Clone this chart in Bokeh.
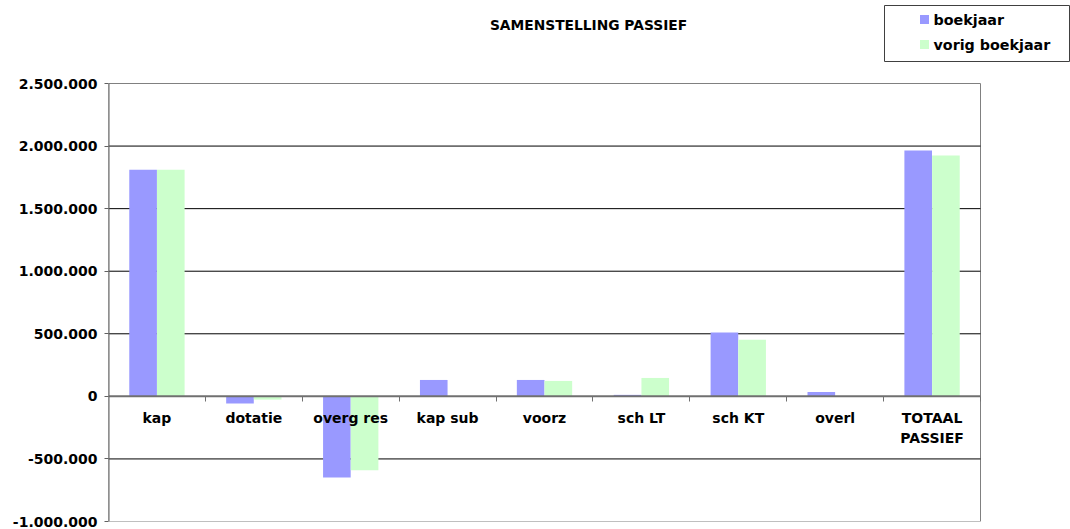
from bokeh.plotting import figure
from bokeh.models import Range1d, FixedTicker, LinearAxis, ColumnDataSource
from bokeh.core.properties import value
from bokeh.embed import file_html
from bokeh.resources import INLINE

categories = ["kap", "dotatie", "overg res", "kap sub", "voorz", "sch LT", "sch KT", "overl", "TOTAAL PASSIEF"]
boekjaar = [1810000, -58000, -648000, 131000, 131000, 12000, 510000, 35000, 1964000]
vorig_boekjaar = [1810000, -26000, -591000, 0, 123000, 147000, 453000, 0, 1924000]
y_ticks = [-1000000, -500000, 0, 500000, 1000000, 1500000, 2000000, 2500000]
y_tick_labels = ["-1.000.000", "-500.000", "0", "500.000", "1.000.000", "1.500.000", "2.000.000", "2.500.000"]
title_text = "SAMENSTELLING PASSIEF"
series_names = ["boekjaar", "vorig boekjaar"]

BLUE = "#9999FF"
GREEN = "#CCFFCC"
FONT = "DejaVu Sans"

W, H = 1070, 529
AREA_L, AREA_R, AREA_T, AREA_B = 108, 980, 83, 521   # plot-area box in pixels
n = len(categories)
ymin, ymax = y_ticks[0], y_ticks[-1]
px_per_cat = (AREA_R - AREA_L) / n
units_per_px = (ymax - ymin) / (AREA_B - AREA_T)


def sx2x(sx):
    return (sx - AREA_L) / px_per_cat


def sy2y(sy):
    return ymax - (sy - AREA_T) * units_per_px


p = figure(width=W, height=H, output_backend="svg", toolbar_location=None,
           x_range=Range1d(0, sx2x(W)), y_range=Range1d(sy2y(AREA_B), sy2y(0)),
           min_border_left=AREA_L, min_border_right=0, min_border_top=0, min_border_bottom=H - AREA_B,
           x_axis_type=None, y_axis_type=None)
p.outline_line_color = None
p.background_fill_color = "white"
p.border_fill_color = "white"

# plot area border
p.quad(left=[0], right=[n], bottom=[ymin], top=[ymax], fill_color=None,
       line_color="#808080", line_width=1)

# horizontal grid lines
gt = [t for t in y_ticks if t not in (0, ymin, ymax)]
p.segment(x0=[0] * len(gt), x1=[n] * len(gt), y0=gt, y1=gt, line_color="black", line_width=1)

centers = [i + 0.5 for i in range(n)]
bw = 0.285
off = 0.143
src = ColumnDataSource(dict(xb=[c - off for c in centers], xg=[c + off for c in centers],
                            b=boekjaar, g=vorig_boekjaar))
p.vbar(x="xb", top="b", bottom=0, width=bw, source=src, fill_color=BLUE, line_color=None)
p.vbar(x="xg", top="g", bottom=0, width=bw, source=src, fill_color=GREEN, line_color=None)

# zero line and left axis line
p.segment(x0=[0], x1=[n], y0=[0], y1=[0], line_color="#707070", line_width=2)
p.segment(x0=[0], x1=[0], y0=[ymin], y1=[ymax], line_color="#606060", line_width=2)

# y axis (ticks and labels)
yax = LinearAxis(ticker=FixedTicker(ticks=y_ticks),
                 major_label_overrides={t: l for t, l in zip(y_ticks, y_tick_labels)})
yax.axis_line_color = None
yax.major_tick_line_color = "#606060"
yax.major_tick_line_width = 1
yax.major_tick_out = 4
yax.major_tick_in = 0
yax.minor_tick_line_color = None
yax.major_label_text_font = FONT
yax.major_label_text_font_style = "bold"
yax.major_label_text_font_size = "14px"
yax.major_label_text_color = "black"
yax.major_label_standoff = 7
p.add_layout(yax, "left")

# category boundary ticks on the zero line
xticks_ax = LinearAxis(ticker=FixedTicker(ticks=list(range(1, n + 1))), fixed_location=0)
xticks_ax.axis_line_color = None
xticks_ax.major_tick_line_color = "#707070"
xticks_ax.major_tick_line_width = 1
xticks_ax.major_tick_out = 5
xticks_ax.major_tick_in = 0
xticks_ax.minor_tick_line_color = None
xticks_ax.major_label_text_font_size = "0px"
xticks_ax.major_label_text_color = None
p.add_layout(xticks_ax, "below")

# category labels below the zero line
lab_overrides = {c: (name.replace(" ", "\n") if name == "TOTAAL PASSIEF" else name)
                 for c, name in zip(centers, categories)}
xlab_ax = LinearAxis(ticker=FixedTicker(ticks=centers), fixed_location=0,
                     major_label_overrides=lab_overrides)
xlab_ax.axis_line_color = None
xlab_ax.major_tick_line_color = None
xlab_ax.minor_tick_line_color = None
xlab_ax.major_label_text_font = FONT
xlab_ax.major_label_text_font_style = "bold"
xlab_ax.major_label_text_font_size = "14px"
xlab_ax.major_label_text_color = "black"
xlab_ax.major_label_standoff = 8
p.add_layout(xlab_ax, "below")

# title
p.text(x=[sx2x(588)], y=[sy2y(24)], text=[title_text], text_font=value(FONT), text_font_style="bold",
       text_font_size="13.8px", text_align="center", text_baseline="middle", text_color="black")

# legend box
LB_L, LB_R, LB_T, LB_B = 884, 1069, 5, 61
p.rect(x=[sx2x((LB_L + LB_R) / 2)], y=[sy2y((LB_T + LB_B) / 2)], width=LB_R - LB_L, height=LB_B - LB_T,
       width_units="screen", height_units="screen", fill_color="white", line_color="#404040", line_width=1)
row_y = [sy2y(19), sy2y(44)]
p.rect(x=[sx2x(924)] * 2, y=row_y, width=9, height=9, width_units="screen", height_units="screen",
       fill_color=[BLUE, GREEN], line_color=None)
p.text(x=[sx2x(933)] * 2, y=row_y, text=series_names, text_font=value(FONT), text_font_style="bold",
       text_font_size="14.3px", text_align="left", text_baseline="middle", text_color="black")

open("out.html", "w").write(file_html(p, INLINE))
